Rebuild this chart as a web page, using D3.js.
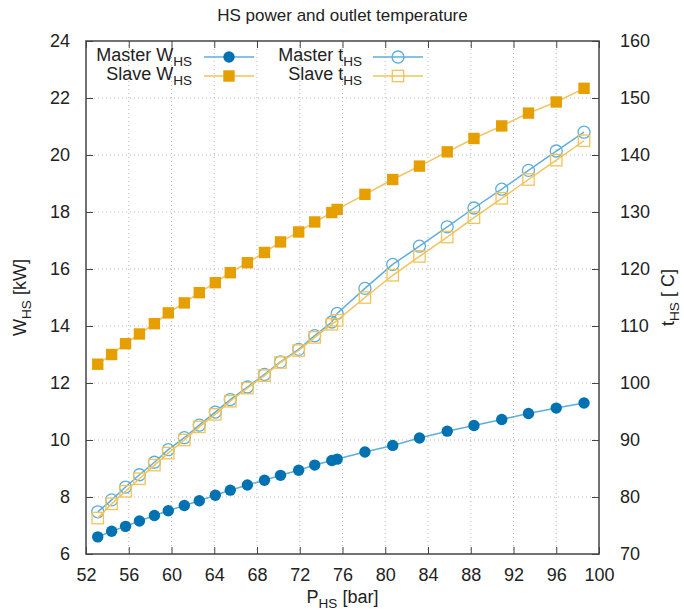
<!DOCTYPE html>
<html>
<head>
<meta charset="utf-8">
<script src="https://cdn.jsdelivr.net/npm/d3@7"></script>
<style>
  body { margin: 0; background: #fff; }
  svg text { font-family: "Liberation Sans", Arial, sans-serif; fill: #222; }
</style>
</head>
<body>
<div id="chart"></div>
<script>
var width = 684;
var height = 612;
var margin = { top: 41, right: 85, bottom: 58, left: 86 };

// pressure [bar]
var pressure = [53.1, 54.4, 55.7, 57.0, 58.4, 59.7, 61.2, 62.6, 64.1, 65.5, 67.1, 68.7, 70.2,
    71.9, 73.4, 75.0, 75.5, 78.1, 80.7, 83.2, 85.8, 88.3, 90.9, 93.4, 96.0, 98.6];
// power [kW]
var masterW = [6.60, 6.80, 6.97, 7.16, 7.35, 7.52, 7.70, 7.87, 8.06, 8.24, 8.42, 8.59, 8.76,
    8.94, 9.12, 9.28, 9.33, 9.58, 9.81, 10.07, 10.31, 10.51, 10.72, 10.93, 11.12, 11.30];
var slaveW = [12.66, 13.00, 13.38, 13.72, 14.08, 14.46, 14.81, 15.17, 15.52, 15.87, 16.22, 16.58, 16.95,
    17.30, 17.65, 17.98, 18.09, 18.62, 19.14, 19.61, 20.11, 20.58, 21.02, 21.47, 21.86, 22.34];
// outlet temperature [C]
var masterT = [77.4, 79.5, 81.75, 83.9, 86.1, 88.3, 90.4, 92.6, 94.9, 97.1, 99.3, 101.5, 103.7,
    105.9, 108.3, 110.7, 112.2, 116.6, 120.8, 124.0, 127.4, 130.7, 134.0, 137.3, 140.7, 144.0];
var slaveT = [76.3, 78.8, 81.0, 83.2, 85.6, 87.7, 90.0, 92.3, 94.5, 96.8, 99.1, 101.3, 103.6,
    105.7, 108.0, 110.3, 111.0, 115.0, 118.9, 122.2, 125.6, 129.0, 132.4, 135.7, 139.1, 142.5];

var xTicks = d3.range(52, 101, 4);
var yTicks = d3.range(6, 25, 2);
var y2Ticks = d3.range(70, 161, 10);

var blueDark = "#0072b2", blueLine = "#5eaedb";
var orangeDark = "#e69f00", orangeLine = "#f2c35a";
var fs = 18;

var svg = d3.select("#chart").append("svg")
    .attr("width", width)
    .attr("height", height);

var xScale = d3.scaleLinear().domain([52, 100]).range([margin.left, width - margin.right]);
var yScale = d3.scaleLinear().domain([6, 24]).range([height - margin.bottom, margin.top]);
var y2Scale = d3.scaleLinear().domain([70, 160]).range([height - margin.bottom, margin.top]);

var x0 = margin.left, x1 = width - margin.right;
var yb = height - margin.bottom, yt = margin.top;

// grid
svg.append("g").selectAll("line").data(xTicks.slice(1, -1)).enter().append("line")
    .attr("x1", d => xScale(d)).attr("x2", d => xScale(d))
    .attr("y1", yt).attr("y2", yb)
    .attr("stroke", "#bbb").attr("stroke-width", 1).attr("stroke-dasharray", "1,3");
svg.append("g").selectAll("line").data(yTicks.slice(1, -1)).enter().append("line")
    .attr("y1", d => yScale(d)).attr("y2", d => yScale(d))
    .attr("x1", x0).attr("x2", x1)
    .attr("stroke", "#bbb").attr("stroke-width", 1).attr("stroke-dasharray", "1,3");

// axes (ticks point inward)
var tickLen = 7;
svg.append("g")
    .attr("transform", "translate(0," + yb + ")")
    .call(d3.axisBottom(xScale).tickValues(xTicks).tickSizeInner(-tickLen).tickSizeOuter(0).tickPadding(tickLen + 7))
    .call(g => g.select(".domain").remove());
svg.append("g")
    .attr("transform", "translate(0," + yt + ")")
    .call(d3.axisTop(xScale).tickValues(xTicks).tickSizeInner(-tickLen).tickSizeOuter(0).tickFormat(""))
    .call(g => g.select(".domain").remove());
svg.append("g")
    .attr("transform", "translate(" + x0 + ",0)")
    .call(d3.axisLeft(yScale).tickValues(yTicks).tickSizeInner(-tickLen).tickSizeOuter(0).tickPadding(tickLen + 9))
    .call(g => g.select(".domain").remove());
svg.append("g")
    .attr("transform", "translate(" + x1 + ",0)")
    .call(d3.axisRight(y2Scale).tickValues(y2Ticks).tickSizeInner(-tickLen).tickSizeOuter(0).tickPadding(tickLen + 14))
    .call(g => g.select(".domain").remove());

svg.selectAll(".tick line").attr("stroke", "#444").attr("stroke-width", 1);
svg.selectAll(".tick text").attr("font-size", fs).attr("fill", "#222")
    .attr("font-family", "'Liberation Sans', Arial, sans-serif");

// border
svg.append("rect")
    .attr("x", x0).attr("y", yt)
    .attr("width", x1 - x0).attr("height", yb - yt)
    .attr("fill", "none").attr("stroke", "#444").attr("stroke-width", 1.5);

// series
var series = [
    { name: "Master W", y: masterW, scale: yScale, line: blueLine, marker: "circle", fill: blueDark, stroke: blueDark },
    { name: "Slave W", y: slaveW, scale: yScale, line: orangeLine, marker: "square", fill: orangeDark, stroke: orangeDark },
    { name: "Master t", y: masterT, scale: y2Scale, line: blueLine, marker: "circle", fill: "none", stroke: blueLine },
    { name: "Slave t", y: slaveT, scale: y2Scale, line: orangeLine, marker: "square", fill: "none", stroke: orangeLine }
];

function drawMarker(g, s, cx, cy) {
    if (s.marker == "circle") {
        g.append("circle").attr("cx", cx).attr("cy", cy).attr("r", s.fill == "none" ? 6 : 5.7)
            .attr("fill", s.fill).attr("stroke", s.stroke).attr("stroke-width", s.fill == "none" ? 1.3 : 0);
    } else {
        g.append("rect").attr("x", cx - 5.7).attr("y", cy - 5.7).attr("width", 11.4).attr("height", 11.4)
            .attr("fill", s.fill).attr("stroke", s.stroke).attr("stroke-width", s.fill == "none" ? 1.3 : 0);
    }
}

series.forEach(function (s) {
    var pts = pressure.map((p, i) => [p, s.y[i]]);
    var line = d3.line().x(d => xScale(d[0])).y(d => s.scale(d[1]));
    svg.append("path").datum(pts)
        .attr("d", line)
        .attr("fill", "none").attr("stroke", s.line).attr("stroke-width", 1.5);
    var g = svg.append("g");
    pts.forEach(d => drawMarker(g, s, xScale(d[0]), s.scale(d[1])));
});

// labels with subscripts
function subLabel(g, main, sub, rest, size) {
    var t = g.append("text").attr("font-size", size);
    t.append("tspan").text(main);
    t.append("tspan").attr("font-size", size * 0.75).attr("dy", size * 0.28).text(sub);
    t.append("tspan").attr("dy", -size * 0.28).text(rest);
    return t;
}

// legend
var legend = [
    { s: series[0], tx: 192, ty: 57, lx: 204 },
    { s: series[1], tx: 192, ty: 76, lx: 204 },
    { s: series[2], tx: 362, ty: 57, lx: 373 },
    { s: series[3], tx: 362, ty: 76, lx: 373 }
];
legend.forEach(function (l) {
    subLabel(svg, l.s.name, "HS", "", fs)
        .attr("x", l.tx).attr("y", l.ty + 4).attr("text-anchor", "end");
    svg.append("line").attr("x1", l.lx).attr("x2", l.lx + 50)
        .attr("y1", l.ty).attr("y2", l.ty)
        .attr("stroke", l.s.line).attr("stroke-width", 1.5);
    drawMarker(svg, l.s, l.lx + 25, l.ty);
});

// title and axis titles
svg.append("text").attr("x", (x0 + x1) / 2).attr("y", 21)
    .attr("text-anchor", "middle").attr("font-size", 17)
    .text("HS power and outlet temperature");

subLabel(svg, "P", "HS", " [bar]", fs)
    .attr("x", (x0 + x1) / 2).attr("y", 603).attr("text-anchor", "middle");

subLabel(svg, "W", "HS", " [kW]", fs)
    .attr("text-anchor", "middle")
    .attr("transform", "translate(26," + (yt + yb) / 2 + ") rotate(-90)");

subLabel(svg, "t", "HS", " [ C]", fs)
    .attr("text-anchor", "middle")
    .attr("transform", "translate(674," + (yt + yb) / 2 + ") rotate(-90)");
</script>
</body>
</html>
